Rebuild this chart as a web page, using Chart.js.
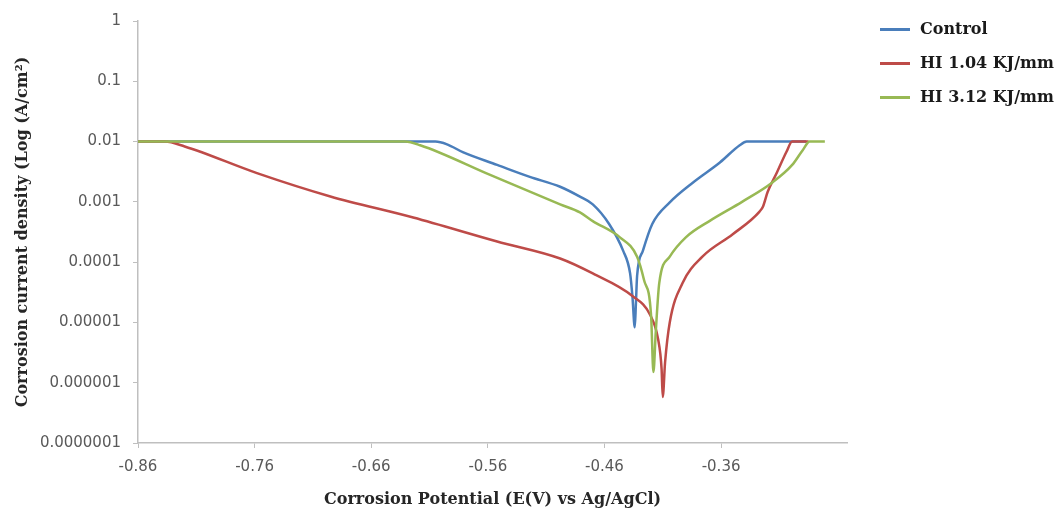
<!DOCTYPE html>
<html>
<head>
<meta charset="utf-8">
<script src="https://cdn.jsdelivr.net/npm/chart.js@4.4.1/dist/chart.umd.min.js"></script>
<style>
  html, body { margin: 0; padding: 0; background: #fff; }
  #wrap { position: relative; width: 1060px; height: 512px; }
  #legend { position: absolute; left: 880px; top: 18px; font-family: "DejaVu Serif", serif; font-weight: bold; font-size: 16px; color: #1a1a1a; }
  .item { position: relative; height: 34px; line-height: 22px; padding-left: 40px; white-space: nowrap; }
  .item span.swatch { position: absolute; left: 0; top: 10px; width: 30px; height: 2.5px; }
</style>
</head>
<body>
<div id="wrap">
  <canvas id="chart" width="1060" height="512"></canvas>
  <div id="legend"></div>
</div>
<script>
// Datos (potencial en V, densidad de corriente en A/cm2)
const seriesNames = ["Control", "HI 1.04 KJ/mm", "HI 3.12 KJ/mm"]
const seriesColors = ["#4A7EBB", "#BE4B48", "#98B954"]

const controlX = [-0.86, -0.605, -0.595, -0.581, -0.552, -0.524, -0.498, -0.481, -0.470, -0.456, -0.444, -0.438, -0.436, -0.434,
  -0.433, -0.432, -0.427, -0.419, -0.404, -0.384, -0.361, -0.344, -0.338, -0.287]
const controlY = [0.01, 0.01, 9.0e-3, 6.6e-3, 4.1e-3, 2.6e-3, 1.78e-3, 1.22e-3, 9.1e-4, 4.3e-4, 1.55e-4, 6.5e-5, 2.7e-5, 8.3e-6,
  2.1e-5, 5.9e-5, 1.55e-4, 4.3e-4, 9.8e-4, 2.1e-3, 4.5e-3, 8.7e-3, 0.01, 0.01]

const hi104X = [-0.86, -0.837, -0.820, -0.758, -0.695, -0.624, -0.552, -0.498, -0.470, -0.436, -0.421, -0.414, -0.411, -0.410,
  -0.408, -0.404, -0.393, -0.376, -0.350, -0.327, -0.324, -0.320, -0.312, -0.304, -0.299, -0.285]
const hi104Y = [0.01, 0.01, 8.3e-3, 3.0e-3, 1.23e-3, 5.5e-4, 2.2e-4, 1.15e-4, 6.5e-5, 2.75e-5, 1.35e-5, 5.3e-6, 1.7e-6, 5.8e-7,
  2.2e-6, 1.0e-5, 4.5e-5, 1.23e-4, 2.9e-4, 6.9e-4, 8.4e-4, 1.47e-3, 3.1e-3, 6.7e-3, 0.01, 0.01]

const hi312X = [-0.86, -0.631, -0.618, -0.558, -0.498, -0.481, -0.470, -0.447, -0.432, -0.426, -0.420, -0.418,
  -0.416, -0.413, -0.404, -0.390, -0.370, -0.342, -0.316, -0.299, -0.290, -0.284, -0.271]
const hi312Y = [0.01, 0.01, 8.7e-3, 2.8e-3, 9.1e-4, 6.7e-4, 4.8e-4, 2.6e-4, 1.23e-4, 5.0e-5, 1.3e-5, 1.5e-6,
  6.9e-6, 4.5e-5, 1.23e-4, 2.6e-4, 4.8e-4, 1.0e-3, 2.1e-3, 4.1e-3, 7.2e-3, 0.01, 0.01]

// Marcas de los ejes
const xTickValues = [-0.86, -0.76, -0.66, -0.56, -0.46, -0.36]
const xTickLabels = ["-0.86", "-0.76", "-0.66", "-0.56", "-0.46", "-0.36"]
const yTickValues = [1, 0.1, 0.01, 0.001, 0.0001, 0.00001, 0.000001, 0.0000001]
const yTickLabels = ["1", "0.1", "0.01", "0.001", "0.0001", "0.00001", "0.000001", "0.0000001"]

const xTitle = "Corrosion Potential (E(V) vs Ag/AgCl)"
const yTitle = "Corrosion current density (Log (A/cm\u00B2)"

function toPoints(xs, ys) {
  return xs.map((x, i) => ({ x: x, y: ys[i] }))
}

const axisGrey = "#BFBFBF"
const tickFont = { family: "DejaVu Sans", size: 15 }
const titleFont = { family: "DejaVu Serif", size: 16, weight: "bold" }

const datasets = [
  { label: seriesNames[0], data: toPoints(controlX, controlY), borderColor: seriesColors[0], order: 2 },
  { label: seriesNames[1], data: toPoints(hi104X, hi104Y), borderColor: seriesColors[1], order: 1 },
  { label: seriesNames[2], data: toPoints(hi312X, hi312Y), borderColor: seriesColors[2], order: 0 },
].map((d) => Object.assign(d, { borderWidth: 2.5, pointRadius: 0, fill: false, cubicInterpolationMode: "monotone" }))

const ctx = document.getElementById("chart").getContext("2d")
const chart = new Chart(ctx, {
  type: "line",
  data: { datasets: datasets },
  options: {
    responsive: false,
    animation: false,
    layout: { padding: { left: 0, right: 213, top: 15, bottom: 0 } },
    plugins: { legend: { display: false }, tooltip: { enabled: false } },
    scales: {
      x: {
        type: "linear",
        min: -0.86,
        max: -0.252,
        afterBuildTicks: (scale) => { scale.ticks = xTickValues.map((v) => ({ value: v })) },
        afterFit: (scale) => { scale.height = 69 },
        ticks: {
          callback: (value, index) => xTickLabels[index],
          font: tickFont,
          color: "#595959",
          padding: 10,
          maxRotation: 0,
          autoSkip: false,
        },
        grid: { display: true, drawOnChartArea: false, drawTicks: true, tickLength: 5, color: axisGrey },
        border: { display: true, color: axisGrey, width: 1.5 },
        title: { display: true, text: xTitle, font: titleFont, color: "#262626", padding: { top: 0, bottom: 3 } },
      },
      y: {
        type: "logarithmic",
        min: 0.0000001,
        max: 1,
        afterBuildTicks: (scale) => { scale.ticks = yTickValues.map((v) => ({ value: v })) },
        afterFit: (scale) => { scale.width = 138 },
        ticks: {
          callback: (value, index) => yTickLabels[index],
          font: tickFont,
          color: "#595959",
          padding: 12,
          autoSkip: false,
        },
        grid: { display: true, drawOnChartArea: false, drawTicks: true, tickLength: 5, color: axisGrey },
        border: { display: true, color: axisGrey, width: 1.5 },
        title: { display: true, text: yTitle, font: titleFont, color: "#262626", padding: { top: 13, bottom: 0 } },
      },
    },
  },
})

// Leyenda a la derecha, construida a partir de los datasets
const legendDiv = document.getElementById("legend")
chart.data.datasets.forEach((ds) => {
  const item = document.createElement("div")
  item.className = "item"
  const sw = document.createElement("span")
  sw.className = "swatch"
  sw.style.background = ds.borderColor
  item.appendChild(sw)
  item.appendChild(document.createTextNode(ds.label))
  legendDiv.appendChild(item)
})
</script>
</body>
</html>
